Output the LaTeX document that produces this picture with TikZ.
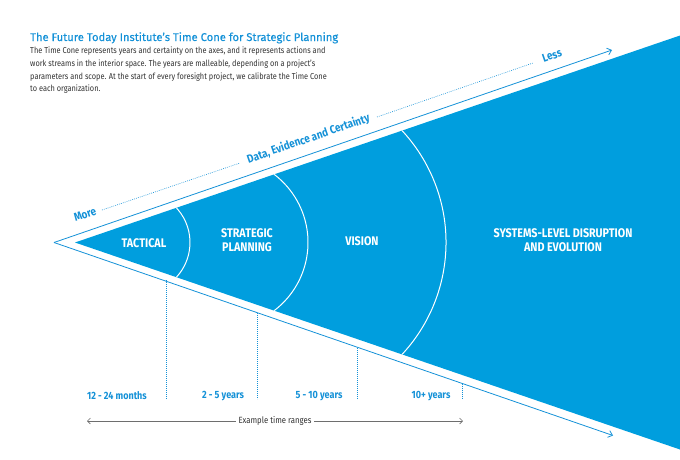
\documentclass[tikz,border=0pt]{standalone}
\usepackage{fontspec}
\setmainfont{Fira Sans}
\newfontfamily\narrowf[FakeStretch=0.86]{Fira Sans}
\newfontfamily\titlef[FakeBold=0.35]{Fira Sans}
\usetikzlibrary{arrows.meta}
\definecolor{conefill}{RGB}{0,158,222}
\definecolor{txtblue}{RGB}{20,145,215}
\definecolor{bodygray}{RGB}{50,50,50}
\definecolor{rulegray}{RGB}{110,110,110}
\tikzset{
  stagelabel/.style={text=white, font=\narrowf\bfseries\fontsize{12.5}{14}\selectfont, align=center, inner sep=0pt},
  rangelabel/.style={text=txtblue, font=\narrowf\bfseries\fontsize{10.5}{12}\selectfont, inner sep=0pt},
  axislabel/.style={text=txtblue, font=\narrowf\bfseries\fontsize{11.5}{12}\selectfont, inner sep=0pt, rotate=19},
  axisline/.style={draw=txtblue, line width=0.8pt, -{Straight Barb[length=4pt,width=7pt]}},
  dotline/.style={draw=txtblue, line width=0.6pt, dash pattern=on 0.8pt off 1.2pt},
  arcline/.style={draw=white, line width=1pt},
}
\begin{document}
\begin{tikzpicture}[x=1pt,y=-1pt]
\useasboundingbox (0,0) rectangle (680,459);
% cone
\coordinate (apex) at (75,242.5);
\coordinate (tr) at (680,35.5);
\coordinate (br) at (680,449.5);
\fill[conefill] (apex) -- (tr) -- (br) -- cycle;
\begin{scope}
  \clip (apex) -- (tr) -- (br) -- cycle;
  \draw[arcline] (139,242.5) ++(-80:51) arc[start angle=-80, end angle=80, radius=51];
  \draw[arcline] (222.5,242.5) ++(-80:85.5) arc[start angle=-80, end angle=80, radius=85.5];
  \draw[arcline] (281.5,242.5) ++(-80:164.5) arc[start angle=-80, end angle=80, radius=164.5];
\end{scope}
% axes
\coordinate (oapex) at (54,242.5);
\coordinate (topend) at (612,50);
\coordinate (botend) at (613,435.5);
\draw[axisline] (oapex) -- (topend);
\draw[axisline] (oapex) -- (botend);
% axis labels
\node[axislabel] (more) at (85,214.5) {More};
\node[axislabel] (data) at (308.5,139) {Data, Evidence and Certainty};
\node[axislabel] (less) at (552,55.5) {Less};
\draw[dotline] (102,210) -- (240,163);
\draw[dotline] (377,117) -- (533,63);
% stage labels
\node[stagelabel] (tac) at (144,243) {TACTICAL};
\node[stagelabel] (strat) at (247,240) {STRATEGIC\\PLANNING};
\node[stagelabel] (vis) at (362,241) {VISION};
\node[stagelabel] (sys) at (563,240) {SYSTEMS-LEVEL DISRUPTION\\AND EVOLUTION};
% vertical dotted guides
\coordinate (g1a) at (166,280); \coordinate (g1b) at (166,399);
\coordinate (g2a) at (257,313); \coordinate (g2b) at (257,399);
\coordinate (g3a) at (357,348); \coordinate (g3b) at (357,399);
\coordinate (g4a) at (462,383.5); \coordinate (g4b) at (462,399);
\draw[dotline] (g1a) -- (g1b);
\draw[dotline] (g2a) -- (g2b);
\draw[dotline] (g3a) -- (g3b);
\draw[dotline] (g4a) -- (g4b);
% range labels
\node[rangelabel] (r1) at (117,396) {12 - 24 months};
\node[rangelabel] (r2) at (223,396) {2 - 5 years};
\node[rangelabel] (r3) at (319,396) {5 - 10 years};
\node[rangelabel] (r4) at (431,396) {10+ years};
% example time ranges
\coordinate (exl) at (87,421);
\coordinate (exr) at (463,421);
\draw[draw=rulegray, line width=0.6pt, {Straight Barb[length=3pt,width=6pt]}-{Straight Barb[length=3pt,width=6pt]}] (exl) -- (exr);
\node[fill=white, inner xsep=3pt, inner ysep=1pt, text=bodygray, font=\narrowf\fontsize{9}{10}\selectfont] (ex) at (275,421) {Example time ranges};
% title and text
\node[anchor=base west, inner sep=0pt, text=txtblue, font=\titlef\fontsize{11.2}{14}\selectfont] (title) at (30,41) {The Future Today Institute’s Time Cone for Strategic Planning};
\node[anchor=north west, inner sep=0pt, text=bodygray, align=left, font=\narrowf\fontsize{8.6}{12.6}\selectfont] (body) at (30,47) {The Time Cone represents years and certainty on the axes, and it represents actions and\\work streams in the interior space. The years are malleable, depending on a project’s\\parameters and scope. At the start of every foresight project, we calibrate the Time Cone\\to each organization.};
\end{tikzpicture}
\end{document}
